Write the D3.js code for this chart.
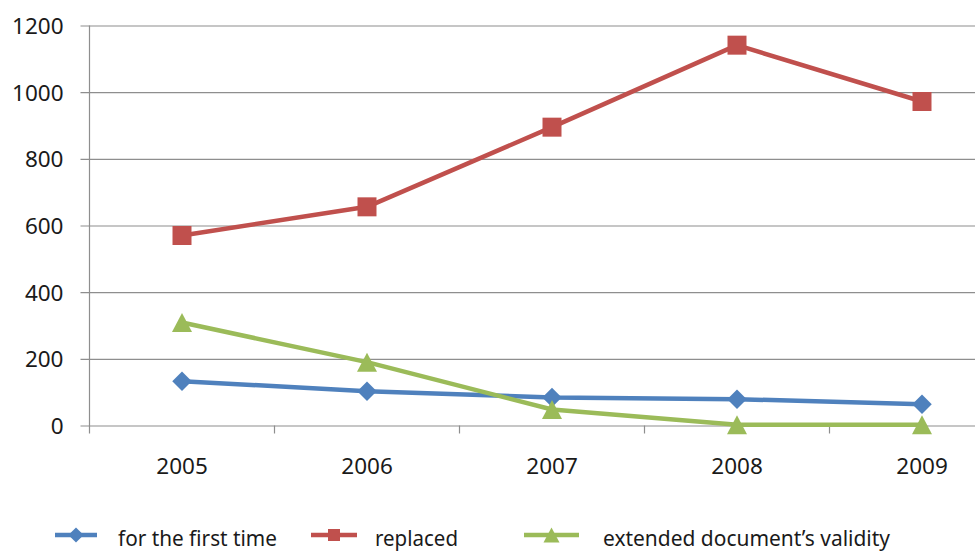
<!DOCTYPE html>
<html><head><meta charset="utf-8">
<script src="https://cdn.jsdelivr.net/npm/d3@7"></script>
<style>body{margin:0;background:#fff;overflow:hidden}svg{display:block}</style>
</head><body>
<svg id="c" width="975" height="551"></svg>
<script>
const years = ["2005","2006","2007","2008","2009"];
const firstTime = [133, 103, 84, 79, 64];
const replaced = [570, 656, 895, 1141, 972];
const extended = [309, 190, 48, 2, 2];
const yTicks = [0, 200, 400, 600, 800, 1000, 1200];
const seriesNames = ["for the first time", "replaced", "extended document\u2019s validity"];
const colors = ["#4F81BD", "#C0504D", "#9BBB59"];
const shapes = ["diamond", "square", "triangle"];

(function () {
const svg = d3.select("#c");
const font = "'Noto Sans', sans-serif";
const pL = 89.5, pR = 1014.5, pT = 25.5, pB = 425.5;
const x = d3.scaleBand().domain(years).range([pL, pR]);
const y = d3.scaleLinear().domain([0, 1200]).range([pB, pT]);

// gridlines + y axis
const yAxis = d3.axisLeft(y).tickValues(yTicks).tickSize(-(975 - pL)).tickPadding(26).tickFormat(d3.format("d"));
const gy = svg.append("g").attr("transform", `translate(${pL},0)`).call(yAxis);
gy.select(".domain").remove();
gy.selectAll(".tick line").attr("stroke", "#8e8e8e").attr("stroke-width", 1.2).attr("x1", -9);
gy.selectAll(".tick text").attr("font-family", font).attr("font-size", 22.5).attr("fill", "#1a1a1a").attr("dy", "0.36em");
svg.append("line").attr("x1", pL).attr("x2", pL).attr("y1", pT).attr("y2", pB + 8).attr("stroke", "#8e8e8e").attr("stroke-width", 1.2);

// x axis
const gx = svg.append("g").attr("transform", `translate(0,${pB})`)
  .call(d3.axisBottom(x).tickSize(0).tickPadding(33));
gx.select(".domain").remove();
gx.selectAll(".tick text").attr("font-family", font).attr("font-size", 22.5).attr("fill", "#1a1a1a");
svg.append("g").selectAll("line").data(years.slice(1)).join("line")
  .attr("x1", d => x(d)).attr("x2", d => x(d)).attr("y1", pB).attr("y2", pB + 8)
  .attr("stroke", "#8e8e8e").attr("stroke-width", 1.2);

// custom triangle centred on its bounding box
const triType = (w, h) => ({ draw(ctx) { ctx.moveTo(0, -h / 2); ctx.lineTo(w / 2, h / 2); ctx.lineTo(-w / 2, h / 2); ctx.closePath(); } });
const markerPath = (s, big) => s === "diamond" ? d3.symbol().type(d3.symbolSquare).size(big ? 190 : 115)()
  : s === "square" ? d3.symbol().type(d3.symbolSquare).size(big ? 361 : 144)()
  : d3.symbol().type(big ? triType(20, 19) : triType(16, 15))();

const data = [firstTime, replaced, extended];
const cxOf = i => x(years[i]) + x.bandwidth() / 2;
const line = d3.line().x((d, i) => cxOf(i)).y(d => y(d));
data.forEach((vals, si) => {
  svg.append("path").attr("d", line(vals)).attr("fill", "none")
    .attr("stroke", colors[si]).attr("stroke-width", 4.5).attr("stroke-linejoin", "round");
});
data.forEach((vals, si) => {
  svg.append("g").selectAll("path").data(vals).join("path")
    .attr("d", markerPath(shapes[si], true))
    .attr("transform", (d, i) => `translate(${cxOf(i)},${y(d)})` + (shapes[si] === "diamond" ? " rotate(45)" : ""))
    .attr("fill", colors[si]);
});

// legend
const legendX = [55, 311, 524];
const lineW = [42, 46, 55];
const textX = [118, 375, 603];
const textW = [159, 83, 287];
seriesNames.forEach((name, i) => {
  const g = svg.append("g").attr("transform", `translate(0,535)`);
  g.append("line").attr("x1", legendX[i]).attr("x2", legendX[i] + lineW[i]).attr("y1", 0).attr("y2", 0)
    .attr("stroke", colors[i]).attr("stroke-width", 4.5);
  g.append("path").attr("d", markerPath(shapes[i], false))
    .attr("transform", `translate(${legendX[i] + lineW[i] / 2},0)` + (i === 0 ? " rotate(45)" : ""))
    .attr("fill", colors[i]);
  g.append("text").attr("x", textX[i]).attr("y", 11)
    .attr("font-family", font).attr("font-size", 21).attr("fill", "#1a1a1a")
    .attr("textLength", textW[i]).attr("lengthAdjust", "spacingAndGlyphs").text(name);
});
})();
</script>
</body></html>
